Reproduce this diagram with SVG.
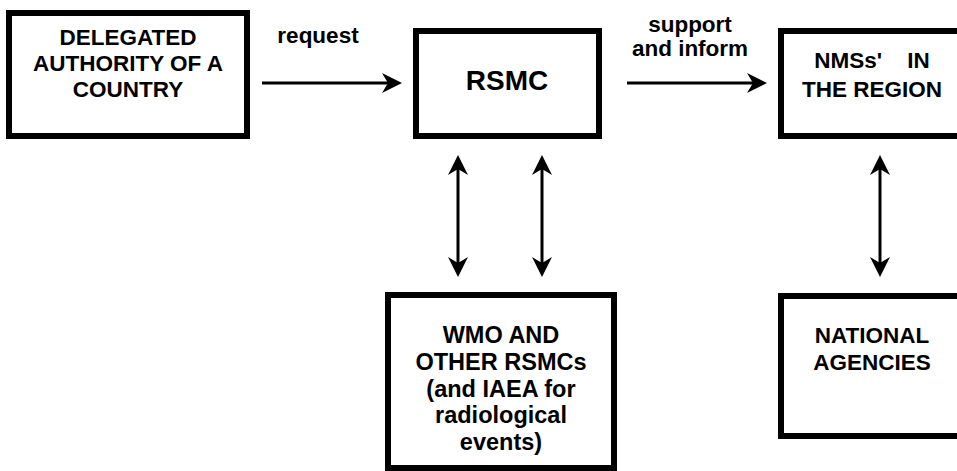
<svg xmlns="http://www.w3.org/2000/svg" width="957" height="471" viewBox="0 0 957 471">
<style>
.box{fill:#fff;stroke:#000;stroke-width:6}
.t{font-family:"Liberation Sans",Arial,sans-serif;font-weight:bold;font-size:22.5px;fill:#000;text-anchor:middle;white-space:pre}
.w{font-size:23.5px}
.big{font-size:28px}
.c{stroke:#000;stroke-width:3;fill:none}
</style>
<defs>
<marker id="ah" viewBox="-20 -10 20 20" markerWidth="20" markerHeight="20" refX="-8" refY="0" orient="auto-start-reverse" markerUnits="userSpaceOnUse">
<path d="M0,0 L-20,-10 L-14,0 L-20,10 Z" fill="#000"/>
</marker>
</defs>
<rect width="957" height="471" fill="#fff"/>
<g id="delegated">
<rect class="box" x="9" y="13" width="238" height="123"/>
<text class="t" x="128" y="45">DELEGATED</text>
<text class="t" x="128" y="71">AUTHORITY OF A</text>
<text class="t" x="128" y="97">COUNTRY</text>
</g>
<g id="rsmc">
<rect class="box" x="416" y="31" width="183" height="105"/>
<text class="t big" x="507" y="90">RSMC</text>
</g>
<g id="nmss">
<rect class="box" x="781" y="31" width="200" height="105"/>
<text class="t" x="872" y="68">NMSs'    IN</text>
<text class="t" x="872" y="97">THE REGION</text>
</g>
<g id="wmo">
<rect class="box" x="388" y="295" width="226" height="173"/>
<text class="t w" x="501" y="343">WMO AND</text>
<text class="t w" x="501" y="370">OTHER RSMCs</text>
<text class="t w" x="501" y="397">(and IAEA for</text>
<text class="t w" x="501" y="423">radiological</text>
<text class="t w" x="501" y="450">events)</text>
</g>
<g id="national">
<rect class="box" x="781" y="296" width="200" height="140"/>
<text class="t" x="872" y="343">NATIONAL</text>
<text class="t" x="872" y="370">AGENCIES</text>
</g>
<g id="connectors">
<line class="c" x1="262" y1="83" x2="394" y2="83" marker-end="url(#ah)"/>
<text class="t" x="318" y="43">request</text>
<line class="c" x1="627" y1="83" x2="759" y2="83" marker-end="url(#ah)"/>
<text class="t" x="690" y="32">support</text>
<text class="t" x="690" y="56">and inform</text>
<line class="c" x1="458" y1="163" x2="458" y2="269" marker-start="url(#ah)" marker-end="url(#ah)"/>
<line class="c" x1="542" y1="163" x2="542" y2="269" marker-start="url(#ah)" marker-end="url(#ah)"/>
<line class="c" x1="880" y1="163" x2="880" y2="269" marker-start="url(#ah)" marker-end="url(#ah)"/>
</g>
</svg>
